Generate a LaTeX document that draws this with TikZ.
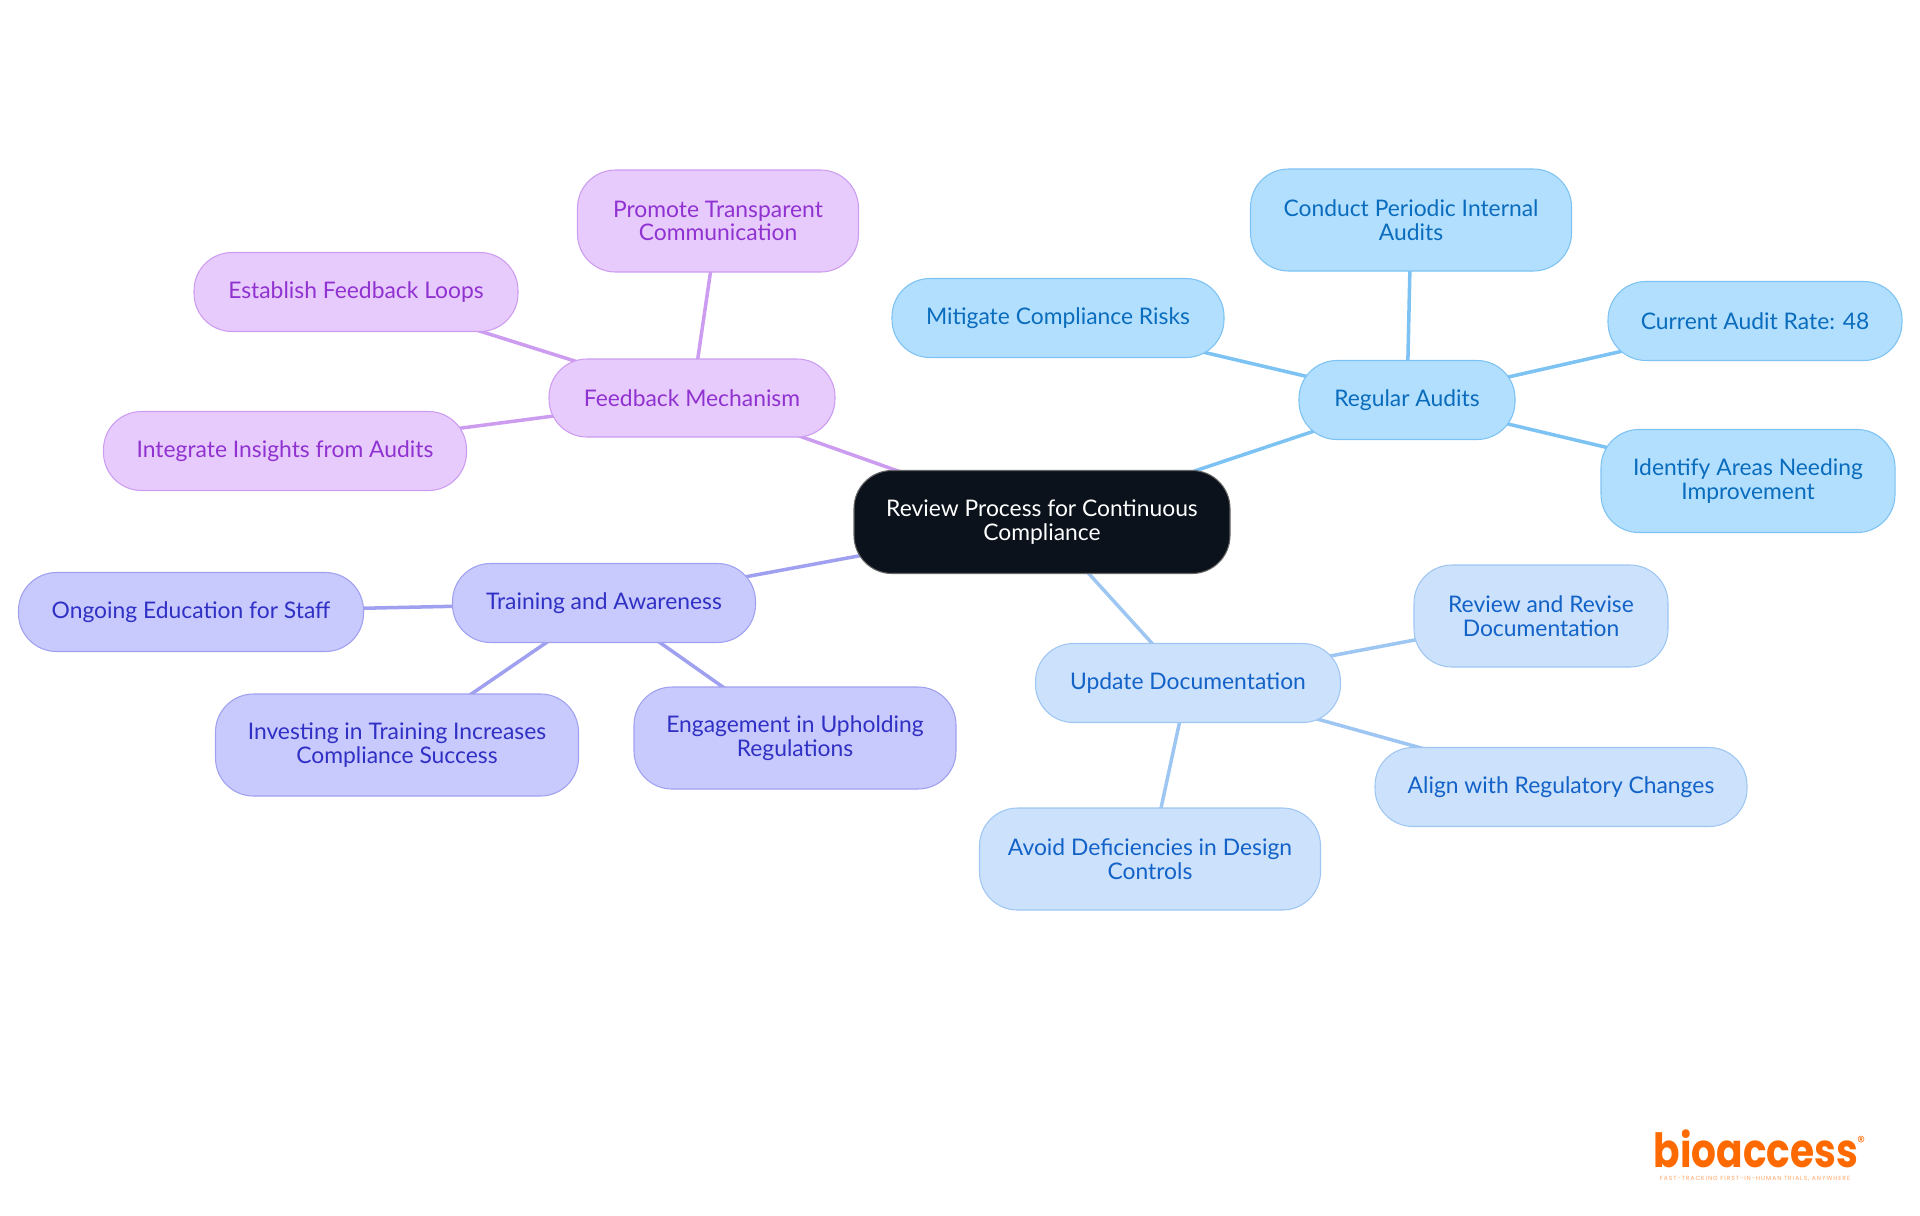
\documentclass[tikz,border=0pt]{standalone}
\usepackage{fontspec}
\setmainfont{Lato}
\newfontfamily\logofont{Poppins}
\newfontfamily\tagfont[LetterSpace=16]{Poppins}
\usepackage{tikz}
\usetikzlibrary{backgrounds}
\definecolor{rootfill}{HTML}{0B121B}
\definecolor{auditfill}{HTML}{B3DFFF}
\definecolor{auditline}{HTML}{7CC2F2}
\definecolor{audittext}{HTML}{0A6CBC}
\definecolor{docfill}{HTML}{CCE2FC}
\definecolor{docline}{HTML}{9EC6F2}
\definecolor{doctext}{HTML}{1262C8}
\definecolor{trainfill}{HTML}{C8CAFE}
\definecolor{trainline}{HTML}{A0A0F0}
\definecolor{traintext}{HTML}{3030C4}
\definecolor{feedfill}{HTML}{E8CBFD}
\definecolor{feedline}{HTML}{CC9CF0}
\definecolor{feedtext}{HTML}{9032D0}
\definecolor{logoorange}{HTML}{FF6A00}
\tikzset{
  size/.style 2 args={minimum width=#1cm, minimum height=#2cm},
  basebox/.style={draw, line width=0.3pt, rounded corners=0.38cm, inner sep=0pt, align=center,
    font=\fontsize{6.5}{6.68}\selectfont},
  rootbox/.style={basebox, fill=rootfill, draw=black!60, text=white},
  auditbox/.style={basebox, fill=auditfill, draw=auditline, text=audittext},
  docbox/.style={basebox, fill=docfill, draw=docline, text=doctext},
  trainbox/.style={basebox, fill=trainfill, draw=trainline, text=traintext},
  feedbox/.style={basebox, fill=feedfill, draw=feedline, text=feedtext},
  link/.style={line width=1pt}
}

\begin{document}
\begin{tikzpicture}
    \useasboundingbox (0, 0) rectangle (19.2, -12.15);

    \node(root) [rootbox, size={3.76}{1.03}] at (10.42, -5.22) {Review Process for Continuous\\Compliance};

    \node(audits) [auditbox, size={2.16}{0.79}] at (14.07, -4.00) {Regular Audits};
    \node(periodic) [auditbox, size={3.21}{1.02}] at (14.11, -2.20) {Conduct Periodic Internal\\Audits};
    \node(rate) [auditbox, size={2.94}{0.79}] at (17.55, -3.21) {Current Audit Rate: 48};
    \node(areas) [auditbox, size={2.94}{1.03}] at (17.48, -4.81) {Identify Areas Needing\\Improvement};
    \node(risks) [auditbox, size={3.32}{0.79}] at (10.58, -3.18) {Mitigate Compliance Risks};

    \node(update) [docbox, size={3.05}{0.79}] at (11.88, -6.83) {Update Documentation};
    \node(revise) [docbox, size={2.54}{1.02}] at (15.41, -6.16) {Review and Revise\\Documentation};
    \node(align) [docbox, size={3.72}{0.79}] at (15.61, -7.87) {Align with Regulatory Changes};
    \node(avoid) [docbox, size={3.41}{1.02}] at (11.50, -8.59) {Avoid Deficiencies in Design\\Controls};

    \node(training) [trainbox, size={3.03}{0.79}] at (6.04, -6.03) {Training and Awareness};
    \node(ongoing) [trainbox, size={3.45}{0.79}] at (1.91, -6.12) {Ongoing Education for Staff};
    \node(investing) [trainbox, size={3.63}{1.02}] at (3.97, -7.45) {Investing in Training Increases\\Compliance Success};
    \node(engage) [trainbox, size={3.22}{1.02}] at (7.95, -7.38) {Engagement in Upholding\\Regulations};

    \node(feedback) [feedbox, size={2.86}{0.78}] at (6.92, -3.98) {Feedback Mechanism};
    \node(promote) [feedbox, size={2.81}{1.02}] at (7.18, -2.21) {Promote Transparent\\Communication};
    \node(loops) [feedbox, size={3.24}{0.79}] at (3.56, -2.92) {Establish Feedback Loops};
    \node(insights) [feedbox, size={3.63}{0.79}] at (2.85, -4.51) {Integrate Insights from Audits};

    \begin{pgfonlayer}{background}
      \draw[link, auditline] (root.center) -- (audits.center);
      \draw[link, auditline] (audits.center) -- (periodic.center);
      \draw[link, auditline] (audits.center) -- (rate.center);
      \draw[link, auditline] (audits.center) -- (areas.center);
      \draw[link, auditline] (audits.center) -- (risks.center);

      \draw[link, docline] (root.center) -- (update.center);
      \draw[link, docline] (update.center) -- (revise.center);
      \draw[link, docline] (update.center) -- (align.center);
      \draw[link, docline] (update.center) -- (avoid.center);

      \draw[link, trainline] (root.center) -- (training.center);
      \draw[link, trainline] (training.center) -- (ongoing.center);
      \draw[link, trainline] (training.center) -- (investing.center);
      \draw[link, trainline] (training.center) -- (engage.center);

      \draw[link, feedline] (root.center) -- (feedback.center);
      \draw[link, feedline] (feedback.center) -- (promote.center);
      \draw[link, feedline] (feedback.center) -- (loops.center);
      \draw[link, feedline] (feedback.center) -- (insights.center);
    \end{pgfonlayer}

    % logo
    \node(logo) [inner sep=0pt, xscale=0.83, text=logoorange, font=\logofont\bfseries\fontsize{13.4}{13.4}\selectfont] at (17.56, -11.49) {bioaccess};
    \node(regmark) [inner sep=0pt, text=logoorange, font=\logofont\fontsize{4.5}{4.5}\selectfont] at (18.61, -11.42) {®};
    \node(tagline) [inner sep=0pt, text=logoorange!60, font=\tagfont\fontsize{1.7}{1.7}\selectfont] at (17.55, -11.79) {FAST-TRACKING FIRST-IN-HUMAN TRIALS, ANYWHERE};
\end{tikzpicture}
\end{document}
